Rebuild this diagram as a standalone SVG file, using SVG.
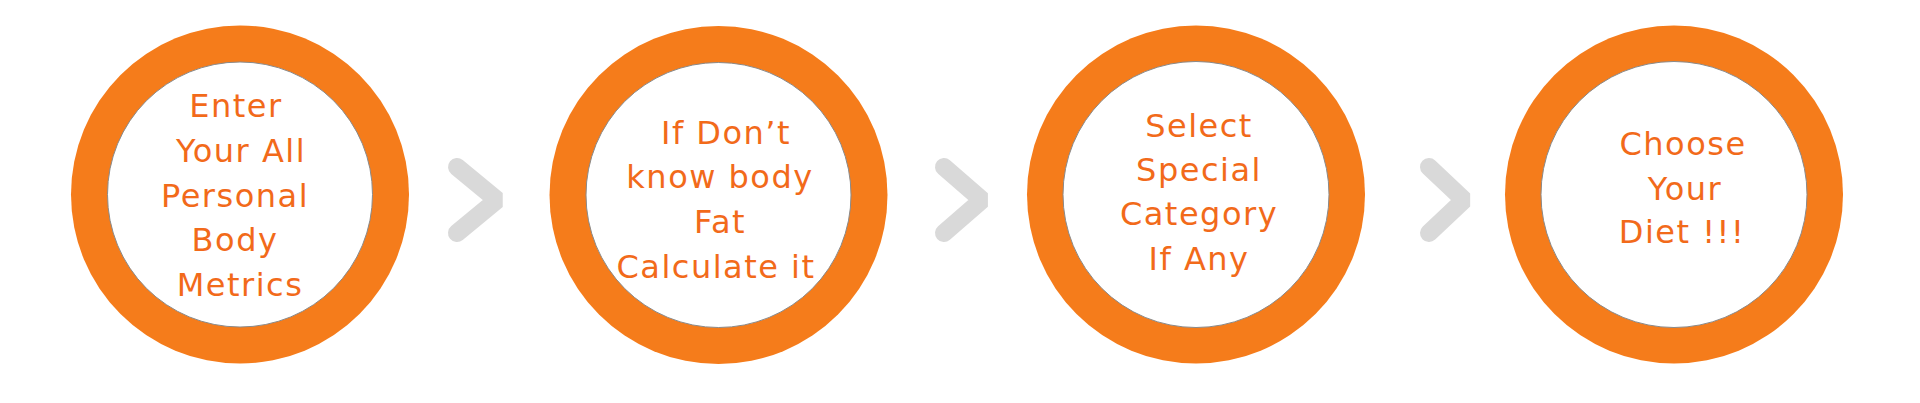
<svg xmlns="http://www.w3.org/2000/svg" width="1920" height="403" viewBox="0 0 1920 403">
<style>
.ring{fill:#F57C1B;}
.inner{fill:#FFFFFF;stroke:#8A8A8A;stroke-width:1;}
.lbl{font-family:"DejaVu Sans","Liberation Sans",sans-serif;font-size:32px;fill:#F26A1A;text-anchor:middle;letter-spacing:1.5px;}
.chev{fill:none;stroke:#D9D9D9;stroke-width:18;stroke-linecap:round;stroke-linejoin:bevel;}
</style>
<rect width="1920" height="403" fill="#FFFFFF"/>
<g id="connectors">
<polyline class="chev" points="457,167 497,200 457,233"/>
<polyline class="chev" points="944,167 982,200 944,233"/>
<polyline class="chev" points="1429,167 1464,200 1429,233"/>
</g>
<g id="node1">
<circle class="ring" cx="240" cy="194.5" r="169"/>
<circle class="inner" cx="240" cy="194.5" r="132.5"/>
<text class="lbl" x="236" y="117">Enter</text>
<text class="lbl" x="241" y="162">Your All</text>
<text class="lbl" x="235" y="207">Personal</text>
<text class="lbl" x="235" y="251">Body</text>
<text class="lbl" x="240" y="296">Metrics</text>
</g>
<g id="node2">
<circle class="ring" cx="718.5" cy="195" r="169"/>
<circle class="inner" cx="718.5" cy="195" r="132.5"/>
<text class="lbl" x="726" y="144">If Don’t</text>
<text class="lbl" x="720" y="188">know body</text>
<text class="lbl" x="720" y="233">Fat</text>
<text class="lbl" x="716" y="278">Calculate it</text>
</g>
<g id="node3">
<circle class="ring" cx="1196" cy="194.5" r="169"/>
<circle class="inner" cx="1196" cy="194.5" r="133"/>
<text class="lbl" x="1199" y="137">Select</text>
<text class="lbl" x="1199" y="181">Special</text>
<text class="lbl" x="1199" y="225">Category</text>
<text class="lbl" x="1199" y="270">If Any</text>
</g>
<g id="node4">
<circle class="ring" cx="1674" cy="194.5" r="169"/>
<circle class="inner" cx="1674" cy="194.5" r="133"/>
<text class="lbl" x="1683" y="155">Choose</text>
<text class="lbl" x="1685" y="200">Your</text>
<text class="lbl" x="1682" y="243">Diet !!!</text>
</g>
</svg>
